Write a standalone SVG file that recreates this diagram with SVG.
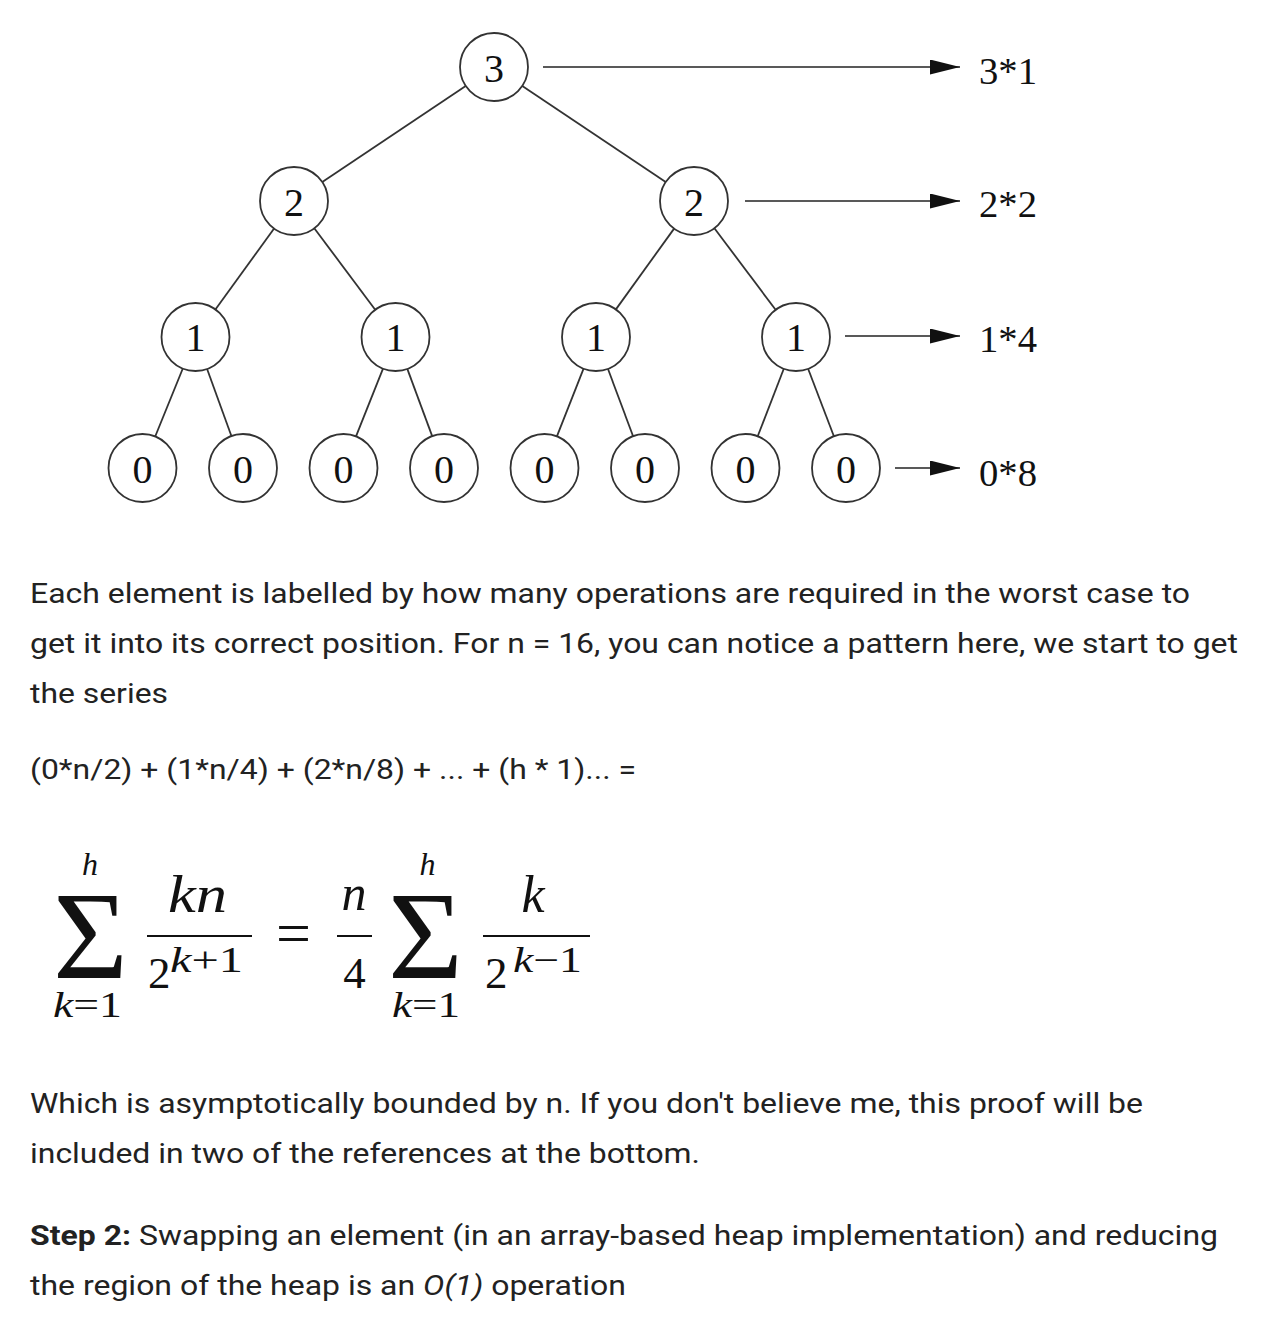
<svg xmlns="http://www.w3.org/2000/svg" width="1284" height="1338" viewBox="0 0 1284 1338">
<defs>
<style>
.nc{fill:#fff;stroke:#333;stroke-width:1.8}
.nt{font-family:"Liberation Serif","Times New Roman",serif;font-size:40px;fill:#111;text-anchor:middle}
.lb{font-family:"Liberation Serif","Times New Roman",serif;font-size:37px;fill:#111}
.edge{stroke:#333;stroke-width:1.8;fill:none}
.arr{stroke:#222;stroke-width:1.6;fill:none;marker-end:url(#ah)}
.body{font-family:Roboto,"Liberation Sans",sans-serif;font-size:28px;fill:#222}
.m{font-family:"Liberation Serif","Times New Roman",serif;fill:#111}
.mi{font-style:italic}
.bar{stroke:#111;stroke-width:2}
</style>
<marker id="ah" markerUnits="userSpaceOnUse" markerWidth="30" markerHeight="16" refX="30" refY="7.5" orient="auto">
<path d="M0,0 L30,7.5 L0,15 Z" fill="#111"/>
</marker>
</defs>
<rect width="1284" height="1338" fill="#fff"/>

<g id="connectors">
<line class="edge" x1="465.7" y1="85.9" x2="322.3" y2="182.1"/>
<line class="edge" x1="522.3" y1="85.9" x2="665.7" y2="182.1"/>
<line class="edge" x1="274.1" y1="228.5" x2="215.4" y2="309.5"/>
<line class="edge" x1="314.3" y1="228.2" x2="375.2" y2="309.8"/>
<line class="edge" x1="674.1" y1="228.6" x2="615.9" y2="309.4"/>
<line class="edge" x1="714.4" y1="228.2" x2="775.6" y2="309.8"/>
<line class="edge" x1="182.8" y1="368.5" x2="155.2" y2="436.5"/>
<line class="edge" x1="207.1" y1="369" x2="231.4" y2="436"/>
<line class="edge" x1="383" y1="368.6" x2="356" y2="436.4"/>
<line class="edge" x1="407.3" y1="368.9" x2="432.2" y2="436.1"/>
<line class="edge" x1="583.6" y1="368.6" x2="556.9" y2="436.4"/>
<line class="edge" x1="607.9" y1="368.8" x2="633.1" y2="436.2"/>
<line class="edge" x1="783.8" y1="368.7" x2="757.7" y2="436.3"/>
<line class="edge" x1="808.1" y1="368.8" x2="833.9" y2="436.2"/>
<line class="arr" x1="543" y1="67" x2="960" y2="67"/>
<line class="arr" x1="745" y1="201" x2="960" y2="201"/>
<line class="arr" x1="845" y1="336" x2="960" y2="336"/>
<line class="arr" x1="895" y1="468" x2="960" y2="468"/>
</g>

<g id="n-root"><circle class="nc" cx="494" cy="67" r="34"/><text class="nt" x="494" y="82">3</text></g>
<g id="n-2a"><circle class="nc" cx="294" cy="201" r="34"/><text class="nt" x="294" y="216">2</text></g>
<g id="n-2b"><circle class="nc" cx="694" cy="201" r="34"/><text class="nt" x="694" y="216">2</text></g>
<g id="n-1a"><circle class="nc" cx="195.5" cy="337" r="34"/><text class="nt" x="195.5" y="351">1</text></g>
<g id="n-1b"><circle class="nc" cx="395.5" cy="337" r="34"/><text class="nt" x="395.5" y="351">1</text></g>
<g id="n-1c"><circle class="nc" cx="596" cy="337" r="34"/><text class="nt" x="596" y="351">1</text></g>
<g id="n-1d"><circle class="nc" cx="796" cy="337" r="34"/><text class="nt" x="796" y="351">1</text></g>
<g id="n-0a"><circle class="nc" cx="142.5" cy="468" r="34"/><text class="nt" x="142.5" y="483">0</text></g>
<g id="n-0b"><circle class="nc" cx="243" cy="468" r="34"/><text class="nt" x="243" y="483">0</text></g>
<g id="n-0c"><circle class="nc" cx="343.5" cy="468" r="34"/><text class="nt" x="343.5" y="483">0</text></g>
<g id="n-0d"><circle class="nc" cx="444" cy="468" r="34"/><text class="nt" x="444" y="483">0</text></g>
<g id="n-0e"><circle class="nc" cx="544.5" cy="468" r="34"/><text class="nt" x="544.5" y="483">0</text></g>
<g id="n-0f"><circle class="nc" cx="645" cy="468" r="34"/><text class="nt" x="645" y="483">0</text></g>
<g id="n-0g"><circle class="nc" cx="745.5" cy="468" r="34"/><text class="nt" x="745.5" y="483">0</text></g>
<g id="n-0h"><circle class="nc" cx="846" cy="468" r="34"/><text class="nt" x="846" y="483">0</text></g>

<g id="level-labels">
<text class="lb" x="979" y="84" textLength="58" lengthAdjust="spacingAndGlyphs">3*1</text>
<text class="lb" x="979" y="217" textLength="58" lengthAdjust="spacingAndGlyphs">2*2</text>
<text class="lb" x="979" y="352" textLength="58" lengthAdjust="spacingAndGlyphs">1*4</text>
<text class="lb" x="979" y="486" textLength="58" lengthAdjust="spacingAndGlyphs">0*8</text>
</g>

<g id="text1">
<text class="body" x="30" y="603" textLength="1160" lengthAdjust="spacingAndGlyphs">Each element is labelled by how many operations are required in the worst case to</text>
<text class="body" x="30" y="653" textLength="1208" lengthAdjust="spacingAndGlyphs">get it into its correct position. For n = 16, you can notice a pattern here, we start to get</text>
<text class="body" x="30" y="703" textLength="138" lengthAdjust="spacingAndGlyphs">the series</text>
<text class="body" x="30" y="779" textLength="606" lengthAdjust="spacingAndGlyphs">(0*n/2) + (1*n/4) + (2*n/8) + ... + (h * 1)... =</text>
</g>

<g id="formula" class="m">
<text x="53" y="978" font-size="125" textLength="75" lengthAdjust="spacingAndGlyphs">Σ</text>
<text x="90" y="875" font-size="32" class="mi" text-anchor="middle">h</text>
<text x="53" y="1017" font-size="36" textLength="69" lengthAdjust="spacingAndGlyphs"><tspan class="mi">k</tspan>=1</text>
<text x="168" y="912" font-size="52" class="mi" textLength="59" lengthAdjust="spacingAndGlyphs">kn</text>
<line class="bar" x1="147" y1="936" x2="252" y2="936"/>
<text x="148" y="988" font-size="45">2</text>
<text x="170" y="972" font-size="35" textLength="73" lengthAdjust="spacingAndGlyphs"><tspan class="mi">k</tspan>+1</text>
<text x="293.5" y="954" font-size="62" text-anchor="middle">=</text>
<text x="354" y="910" font-size="50" class="mi" text-anchor="middle">n</text>
<line class="bar" x1="337" y1="936" x2="372" y2="936"/>
<text x="354.5" y="988" font-size="45" text-anchor="middle">4</text>
<text x="388" y="978" font-size="125" textLength="75" lengthAdjust="spacingAndGlyphs">Σ</text>
<text x="427.5" y="875" font-size="32" class="mi" text-anchor="middle">h</text>
<text x="392" y="1017" font-size="36" textLength="68" lengthAdjust="spacingAndGlyphs"><tspan class="mi">k</tspan>=1</text>
<text x="533" y="912" font-size="52" class="mi" text-anchor="middle">k</text>
<line class="bar" x1="483" y1="936" x2="590" y2="936"/>
<text x="485" y="988" font-size="45">2</text>
<text x="513" y="972" font-size="35" textLength="69" lengthAdjust="spacingAndGlyphs"><tspan class="mi">k</tspan>−1</text>
</g>

<g id="text2">
<text class="body" x="30" y="1113" textLength="1113" lengthAdjust="spacingAndGlyphs">Which is asymptotically bounded by n. If you don't believe me, this proof will be</text>
<text class="body" x="30" y="1163" textLength="670" lengthAdjust="spacingAndGlyphs">included in two of the references at the bottom.</text>
<text class="body" x="30" y="1245" textLength="1188" lengthAdjust="spacingAndGlyphs"><tspan font-weight="bold">Step 2:</tspan> Swapping an element (in an array-based heap implementation) and reducing</text>
<text class="body" x="30" y="1295" textLength="596" lengthAdjust="spacingAndGlyphs">the region of the heap is an <tspan font-style="italic">O(1)</tspan> operation</text>
</g>
</svg>
